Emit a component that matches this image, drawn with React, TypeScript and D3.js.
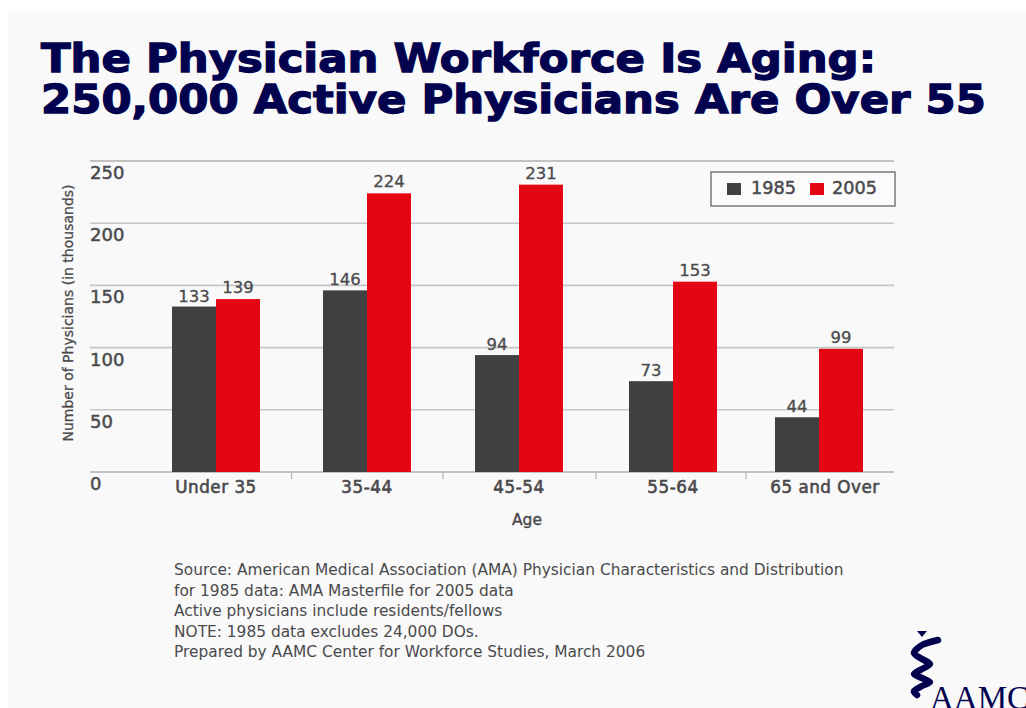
import React from "react";
import * as d3 from "d3";

const ageGroups = ["Under 35", "35-44", "45-54", "55-64", "65 and Over"];
const values1985 = [133, 146, 94, 73, 44];
const values2005 = [139, 224, 231, 153, 99];
const yTicks = [0, 50, 100, 150, 200, 250];
const titleLines = ["The Physician Workforce Is Aging:", "250,000 Active Physicians Are Over 55"];
const sourceLines = [
  "Source: American Medical Association (AMA) Physician Characteristics and Distribution",
  "for 1985 data: AMA Masterfile for 2005 data",
  "Active physicians include residents/fellows",
  "NOTE: 1985 data excludes 24,000 DOs.",
  "Prepared by AAMC Center for Workforce Studies, March 2006",
];

const NAVY = "#02024f";
const DARK = "#3f4042";
const RED = "#e30613";
const TEXT = "#4a4a4c";
const FONT = "'DejaVu Sans', sans-serif";

const y = d3.scaleLinear().domain([0, 250]).range([472, 161]);
// The age groups are not quite evenly spaced along the axis.
const x = d3.scaleOrdinal<string, number>().domain(ageGroups).range([216, 367, 519, 673, 819]);
const barWidth = 44;
const snake = d3.line().curve(d3.curveCardinal.tension(0.2));
const snakePoints: [number, number][] = [
  [938, 640], [922, 645], [914, 653], [922, 659], [930, 664], [922, 669], [914, 674], [922, 678], [930, 682], [922, 686], [914, 691], [917, 695],
];

export default function App() {
  return (
    <svg
      width={1026}
      height={708}
      style={{ position: "absolute", left: 0, top: 0, background: "#ffffff" }}
    >
      <rect x={8} y={12} width={1018} height={696} fill="#f9f9f9" />

      {titleLines.map((line, i) => (
        <text
          key={line}
          x={41}
          y={72 + i * 41}
          fontFamily="'DejaVu Sans', sans-serif"
          fontWeight={700}
          fontSize={39}
          fill={NAVY}
          stroke={NAVY}
          strokeWidth={1.3}
          textLength={i === 0 ? 835 : 945}
          lengthAdjust="spacingAndGlyphs"
        >
          {line}
        </text>
      ))}

      {yTicks.map((t) => (
        <g key={t}>
          <line
            x1={90}
            x2={894}
            y1={y(t)}
            y2={y(t)}
            stroke={t === 0 || t === 250 ? "#8c8c8c" : "#c6c6c6"}
            strokeWidth={t === 0 || t === 250 ? 1.2 : 1.6}
          />
          <text x={90} y={y(t) + 18} fontFamily={FONT} fontSize={18} fill={TEXT} stroke={TEXT} strokeWidth={0.5}>
            {t}
          </text>
        </g>
      ))}

      {ageGroups.map((g, i) => {
        const cx = x(g);
        const nextCx = i < ageGroups.length - 1 ? x(ageGroups[i + 1]) : cx;
        return (
          <g key={g}>
            <rect x={cx - barWidth} y={y(values1985[i])} width={barWidth} height={y(0) - y(values1985[i])} fill={DARK} />
            <rect x={cx} y={y(values2005[i])} width={barWidth} height={y(0) - y(values2005[i])} fill={RED} />
            <text x={cx - barWidth / 2} y={y(values1985[i]) - 5} textAnchor="middle" fontFamily={FONT} fontSize={16.5} fill={TEXT} stroke={TEXT} strokeWidth={0.3}>
              {values1985[i]}
            </text>
            <text x={cx + barWidth / 2} y={y(values2005[i]) - 6} textAnchor="middle" fontFamily={FONT} fontSize={16.5} fill={TEXT} stroke={TEXT} strokeWidth={0.3}>
              {values2005[i]}
            </text>
            <text x={cx + (i === 4 ? 6 : 0)} y={493} textAnchor="middle" fontFamily={FONT} fontSize={16.8} letterSpacing={0.5} fill={TEXT} stroke={TEXT} strokeWidth={0.6}>
              {g}
            </text>
            {i < ageGroups.length - 1 && (
              <line x1={(cx + nextCx) / 2} x2={(cx + nextCx) / 2} y1={472} y2={479} stroke="#b5b5b5" strokeWidth={1.2} />
            )}
          </g>
        );
      })}

      <text x={527} y={525} textAnchor="middle" fontFamily={FONT} fontSize={15.5} fill={TEXT} stroke={TEXT} strokeWidth={0.4}>
        Age
      </text>
      <text
        transform="translate(73,313) rotate(-90)"
        textAnchor="middle"
        fontFamily={FONT}
        fontSize={14}
        fill={TEXT}
        stroke={TEXT}
        strokeWidth={0.3}
      >
        Number of Physicians (in thousands)
      </text>

      <rect x={711} y={172} width={184} height={34} fill="#fbfbfb" stroke="#7a7a7a" strokeWidth={1.5} />
      <rect x={727} y={183} width={14} height={12} fill={DARK} />
      <text x={751} y={194} fontFamily={FONT} fontSize={17.7} fill={TEXT} stroke={TEXT} strokeWidth={0.5}>1985</text>
      <rect x={810} y={183} width={14} height={12} fill={RED} />
      <text x={832} y={194} fontFamily={FONT} fontSize={17.7} fill={TEXT} stroke={TEXT} strokeWidth={0.5}>2005</text>

      {sourceLines.map((line, i) => (
        <text key={line} x={174} y={575 + i * 20.5} fontFamily={FONT} fontSize={15.4} fill={TEXT}>
          {line}
        </text>
      ))}

      <path d="M917 631 L927 631 L922 637 Z" fill={NAVY} />
      <path d={snake(snakePoints) ?? ""} fill="none" stroke={NAVY} strokeWidth={6.5} strokeLinecap="round" />
      <text x={930} y={709} fontFamily="'Liberation Serif', serif" fontSize={33} fill={NAVY}>
        AAMC
      </text>
    </svg>
  );
}
